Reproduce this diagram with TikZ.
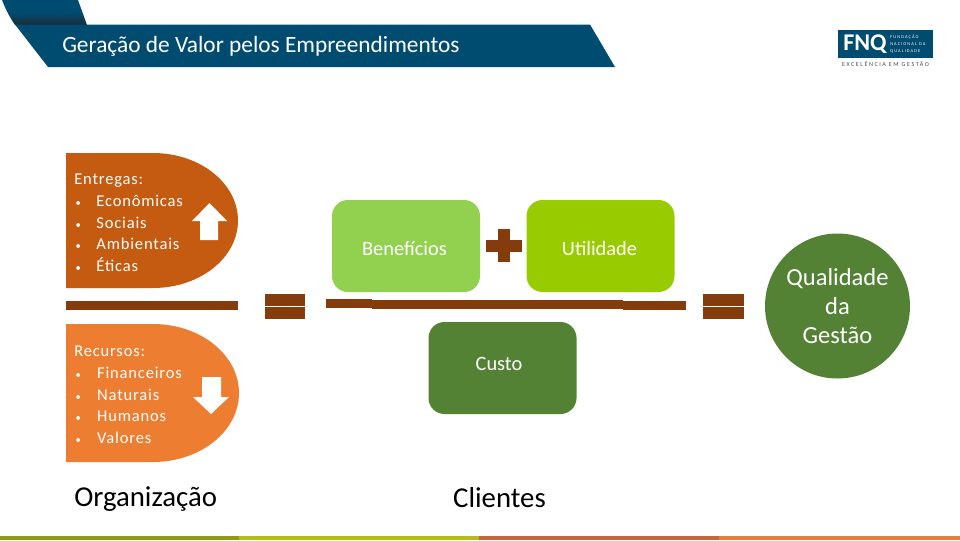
\documentclass[tikz,border=0pt]{standalone}
\usepackage{fontspec}
\setmainfont{Carlito}
\newfontfamily\largo[LetterSpace=5]{Carlito}
\newfontfamily\logofonte[LetterSpace=25]{Carlito}
\definecolor{azulfaixa}{HTML}{004C70}
\definecolor{azulescuro}{HTML}{1C2B36}
\definecolor{entregas}{HTML}{C55A11}
\definecolor{recursos}{HTML}{ED7D31}
\definecolor{barra}{HTML}{843C0C}
\definecolor{beneficios}{HTML}{92D050}
\definecolor{utilidade}{HTML}{99CC00}
\definecolor{custo}{HTML}{548235}
\definecolor{rodapea}{HTML}{8F9A14}
\definecolor{rodapeb}{HTML}{B5BD0E}
\definecolor{rodapec}{HTML}{C8643C}
\definecolor{rodaped}{HTML}{E57C40}
\begin{document}
\begin{tikzpicture}[x=0.75pt,y=-0.75pt]

    % estilos
    \tikzset{
        caixa/.style={rounded corners=12pt, minimum width=111pt, minimum height=69pt, inner sep=0pt},
        textocaixa/.style={inner sep=0pt, text=white, font=\fontsize{15.3}{18}\selectfont},
        lista/.style={anchor=north west, align=left, inner sep=0pt, text=white, font=\largo\fontsize{12.4}{16.2}\selectfont},
        rotulo/.style={inner sep=0pt, text=black, font=\fontsize{21.6}{25}\selectfont}
    }

    % sinal de igual: canto superior esquerdo, largura
    \newcommand{\igual}[3]{%
        \fill[barra] (#1,#2) rectangle ++(#3,11.5);
        \fill[barra] (#1,#2+13) rectangle ++(#3,11.5);
    }
    % marca de lista
    \newcommand{\marca}[1]{\makebox[#1][l]{\hspace{1pt}\fontsize{8}{8}\selectfont•}}

    % area da figura
    \useasboundingbox (0,0) rectangle (960,540);

    % --- faixa do titulo ---
    \shade[top color=azulfaixa, bottom color=azulescuro, middle color=azulfaixa] (2,0) -- (78,0) -- (87,25) -- (15,25) to[bend left=6] cycle;
    \fill[azulfaixa] (15,24.5) -- (590,24.5) -- (615,67) -- (48,67) -- cycle;
    \node[anchor=west, inner sep=0pt, text=white, font=\fontsize{17.5}{21}\selectfont] (titulo) at (62,46) {Geração de Valor pelos Empreendimentos};

    % --- logotipo ---
    \fill[azulfaixa] (838,30) rectangle (933,58);
    \node[anchor=west, inner sep=0pt, text=white, font=\bfseries\fontsize{18}{18}\selectfont] (fnq) at (843,44) {FNQ};
    \node[anchor=west, align=left, inner sep=0pt, text=white, font=\logofonte\fontsize{3.3}{5.25}\selectfont] (fundacao) at (890,44) {FUNDAÇÃO\\NACIONAL DA\\QUALIDADE};
    \node[inner sep=0pt, text=black!70, font=\logofonte\fontsize{4.6}{5}\selectfont] (excelencia) at (885.5,64.5) {EXCELÊNCIA EM GESTÃO};

    % --- organizacao ---
    \fill[entregas] (66,153) -- (153,153) arc[start angle=-90, end angle=90, x radius=85, y radius=67.5] -- (66,288) -- cycle;
    \fill[recursos] (66,324) -- (153,324) arc[start angle=-90, end angle=90, x radius=86, y radius=69] -- (66,462) -- cycle;
    \fill[barra] (66,301) rectangle (238,310);
    \igual{265}{294}{40}

    \node[lista] (entregas) at (74,174) {Entregas:\\\marca{16.6pt}Econômicas\\\marca{16.6pt}Sociais\\\marca{16.6pt}Ambientais\\\marca{16.6pt}Éticas};
    \node[lista] (recursos) at (74,346) {Recursos:\\\marca{17.2pt}Financeiros\\\marca{17.2pt}Naturais\\\marca{17.2pt}Humanos\\\marca{17.2pt}Valores};

    % setas
    \fill[white] (209.5,203) -- (227,221) -- (218,221) -- (218,240) -- (200,240) -- (200,221) -- (192,221) -- cycle;
    \fill[white] (202,377) -- (221,377) -- (221,397) -- (229,397) -- (211,414) -- (193,397) -- (202,397) -- cycle;

    % --- clientes ---
    \node[caixa, fill=beneficios] (benef) at (406,246) {};
    \node[caixa, fill=utilidade] (util) at (600.5,246) {};
    \node[caixa, fill=custo] (custo) at (502.5,368) {};
    \node[textocaixa] (beneftxt) at (404.5,249) {Benefícios};
    \node[textocaixa] (utiltxt) at (599.5,248) {Utilidade};
    \node[textocaixa] (custotxt) at (499,363.5) {Custo};

    % sinal de mais
    \fill[barra] (486,240) rectangle (522,252);
    \fill[barra] (498,229) rectangle (510,262);

    % barra em tres pedacos
    \fill[barra] (326,299) rectangle (372,308);
    \fill[barra] (372,300) rectangle (623,309);
    \fill[barra] (623,301) rectangle (686,310);
    \igual{703}{294}{41}

    % --- resultado ---
    \node[circle, fill=custo, minimum size=108.75pt, inner sep=0pt, align=center, text=white, font=\fontsize{18.4}{21.6}\selectfont] (qualidade) at (837.5,306) {Qualidade\\da\\Gestão};

    % --- rotulos ---
    \node[rotulo, anchor=west] (organizacao) at (74,499) {Organização};
    \node[rotulo] (clientes) at (499.5,498) {Clientes};

    % --- rodape ---
    \fill[rodapea] (0,536) rectangle (239,540);
    \fill[rodapeb] (239,536) rectangle (479,540);
    \fill[rodapec] (479,536) rectangle (719,540);
    \fill[rodaped] (719,536) rectangle (960,540);

\end{tikzpicture}
\end{document}
